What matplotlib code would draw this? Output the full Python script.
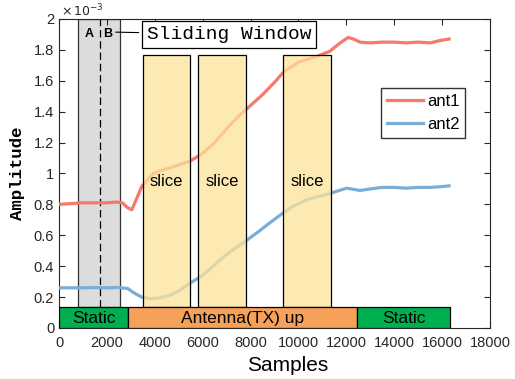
import numpy as np
import matplotlib.pyplot as plt
from matplotlib.patches import Rectangle

# samples and amplitude (x 1e-3)
x_ant1 = [0, 500, 1000, 1500, 2000, 2400, 2650, 2850, 3040, 3250, 3450, 3700, 3930,
          4300, 4700, 5100, 5470, 6000, 6500, 7000, 7500, 8000, 8500, 9000, 9400,
          9700, 10000, 10400, 10800, 11300, 11700, 12070, 12300, 12570, 13000,
          13500, 14000, 14500, 15000, 15500, 15900, 16290]
y_ant1 = [0.80, 0.805, 0.81, 0.81, 0.81, 0.815, 0.81, 0.78, 0.765, 0.84, 0.915, 0.96, 1.00,
          1.02, 1.04, 1.06, 1.08, 1.13, 1.20, 1.29, 1.37, 1.44, 1.51, 1.59, 1.66,
          1.69, 1.72, 1.74, 1.76, 1.79, 1.84, 1.88, 1.87, 1.85, 1.845,
          1.85, 1.85, 1.845, 1.85, 1.845, 1.86, 1.87]
x_ant2 = [0, 500, 1000, 1500, 2000, 2500, 2880, 3100, 3450, 3800, 4200, 4600, 5000,
          5470, 6000, 6720, 7200, 7770, 8300, 8800, 9360, 9800, 10340, 10800, 11310,
          11700, 12010, 12570, 13000, 13500, 14000, 14500, 15000, 15500, 16000, 16290]
y_ant2 = [0.26, 0.26, 0.26, 0.262, 0.26, 0.262, 0.255, 0.23, 0.20, 0.19, 0.195, 0.21, 0.24,
          0.29, 0.34, 0.44, 0.50, 0.56, 0.62, 0.68, 0.745, 0.79, 0.83, 0.85, 0.87,
          0.89, 0.905, 0.89, 0.90, 0.91, 0.91, 0.905, 0.91, 0.91, 0.915, 0.92]

slices = [(3500, 5480), (5820, 7800), (9370, 11350)]
phases = [("Static", 0, 2900, "#00b050"),
          ("Antenna(TX) up", 2900, 12450, "#f5a15a"),
          ("Static", 12450, 16330, "#00b050")]
window = (800, 2550)
dash_x = 1700

plt.rcParams['font.family'] = ['Liberation Sans', 'DejaVu Sans']
fig = plt.figure(figsize=(5.15, 3.79), dpi=100)
ax = fig.add_axes([0.1146, 0.1346, 0.8369, 0.8154])

# sliding window (grey)
ax.add_patch(Rectangle((window[0], 0.135), window[1] - window[0], 2.0 - 0.135,
                       facecolor="#dcdcdc", edgecolor="#333333", lw=0.9, zorder=1))
ax.plot([dash_x, dash_x], [0.135, 2.0], color="black", ls=(0, (6, 3)), lw=0.9, zorder=2)

l1, = ax.plot(x_ant1, y_ant1, color="#f47a6c", lw=2.3, label="ant1", zorder=3)
l2, = ax.plot(x_ant2, y_ant2, color="#7aaed6", lw=2.3, label="ant2", zorder=3)

for a, b in slices:
    ax.add_patch(Rectangle((a, 0.135), b - a, 1.767 - 0.135, facecolor="#fde39a",
                           alpha=0.75, edgecolor="none", zorder=4))
    ax.add_patch(Rectangle((a, 0.135), b - a, 1.767 - 0.135, facecolor="none",
                           edgecolor="black", lw=0.9, zorder=5))
    ax.text((a + b) / 2, 0.95, "slice", ha="center", va="center", fontsize=12, zorder=6)

for name, a, b, c in phases:
    ax.add_patch(Rectangle((a, 0), b - a, 0.135, facecolor=c, edgecolor="black",
                           lw=0.9, zorder=5))
    ax.text((a + b) / 2, 0.064, name, ha="center", va="center", fontsize=12.5, zorder=6)

ax.text(1250, 1.9, "A", ha="center", va="center", fontsize=9, fontweight="bold")
ax.text(2050, 1.9, "B", ha="center", va="center", fontsize=9, fontweight="bold")
ax.annotate("Sliding Window", xy=(2250, 1.915), xytext=(7100, 1.90),
            ha="center", va="center", fontsize=14, family="Liberation Mono",
            bbox=dict(boxstyle="square,pad=0.25", fc="white", ec="black", lw=0.9),
            arrowprops=dict(arrowstyle="-", color="black", lw=0.8), zorder=7)

ax.set_xlim(0, 18000)
ax.set_ylim(0, 2)
ax.set_xticks(np.arange(0, 18001, 2000))
ax.set_yticks(np.arange(0, 2.01, 0.2))
ax.set_yticklabels(["0", "0.2", "0.4", "0.6", "0.8", "1", "1.2", "1.4", "1.6", "1.8", "2"])
ax.tick_params(direction="in", top=True, right=True, labelsize=10.5, length=4, width=0.8,
               colors="#262626")
ax.tick_params(axis="x", pad=6)
for s in ax.spines.values():
    s.set_color("#262626")
    s.set_linewidth(0.8)
ax.text(0.005, 1.0, r"$\times\,10^{-3}$", transform=ax.transAxes, fontsize=9,
        color="#262626", va="bottom", ha="left")

ax.set_xlabel("Samples", fontsize=15, labelpad=1)
ax.xaxis.set_label_coords(0.53, -0.09)
ax.set_ylabel("Amplitude", fontsize=12.5, family="Liberation Mono", fontweight="bold",
              labelpad=6)

ax.legend(handles=[l1, l2], loc="upper left", bbox_to_anchor=(0.747, 0.775),
          fontsize=12, frameon=True, fancybox=False, edgecolor="black",
          handlelength=2.2, handletextpad=0.2, borderpad=0.35, labelspacing=0.45,
          borderaxespad=0)

fig.savefig("out.png", dpi=100)
